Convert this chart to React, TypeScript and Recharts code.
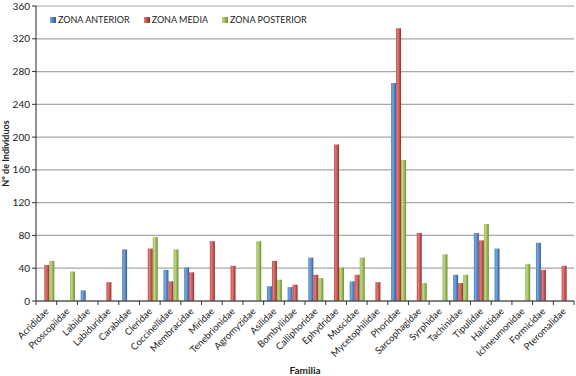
import { Bar, BarChart, CartesianGrid, Label, XAxis, YAxis } from 'recharts';

const families = [
  'Acrididae', 'Proscopiidae', 'Labiidae', 'Labiduridae', 'Carabidae', 'Cleridae',
  'Coccinellidae', 'Membracidae', 'Miridae', 'Tenebrionidae', 'Agromyzidae', 'Asilidae',
  'Bombyliidae', 'Calliphoridae', 'Ephydridae', 'Muscidae', 'Mycetophilidae', 'Phoridae',
  'Sarcophagidae', 'Syrphidae', 'Tachinidae', 'Tipulidae', 'Halictidae', 'Ichneumonidae',
  'Formicidae', 'Pteromalidae',
];

const zonaAnterior = [0, 0, 13, 0, 63, 0, 38, 41, 0, 0, 0, 18, 17, 53, 0, 24, 0, 266, 0, 0, 32, 83, 64, 0, 71, 0];
const zonaMedia = [44, 0, 0, 23, 0, 64, 24, 35, 73, 43, 0, 49, 20, 32, 191, 32, 23, 333, 83, 0, 22, 74, 0, 0, 38, 43];
const zonaPosterior = [49, 36, 0, 0, 0, 78, 63, 0, 0, 0, 73, 26, 0, 28, 41, 53, 0, 172, 22, 57, 32, 94, 0, 45, 0, 0];

const yTicks = [0, 40, 80, 120, 160, 200, 240, 280, 320, 360];

const SERIES = [
  { key: 'anterior', name: 'ZONA ANTERIOR', light: '#7aa6dc', mid: '#4f81bd', dark: '#2f5d95' },
  { key: 'media', name: 'ZONA MEDIA', light: '#e07a77', mid: '#c0504d', dark: '#8f2f2c' },
  { key: 'posterior', name: 'ZONA POSTERIOR', light: '#bcd77f', mid: '#9bbb59', dark: '#6f8c33' },
];

const FONT = 'Lato, "Open Sans", sans-serif';
const WIDTH = 576;
const HEIGHT = 376;
const MARGIN = { top: 6, right: 2, left: 0, bottom: 0 };
const Y_WIDTH = 36;
const X_HEIGHT = 75;
const BAND = (WIDTH - MARGIN.left - MARGIN.right - Y_WIDTH) / families.length;

const data = families.map((name, i) => ({
  name,
  anterior: zonaAnterior[i],
  media: zonaMedia[i],
  posterior: zonaPosterior[i],
}));

function FamilyTick({ x, y, payload, index }: any) {
  const left = x - BAND / 2;
  return (
    <g>
      <line x1={left} y1={y - 8} x2={left} y2={y - 4} stroke="#333" />
      {index === families.length - 1 && (
        <line x1={left + BAND} y1={y - 8} x2={left + BAND} y2={y - 4} stroke="#333" />
      )}
      <text
        x={0}
        y={0}
        transform={`translate(${x + 3},${y + 3}) rotate(-45)`}
        textAnchor="end"
        fontSize={9.5}
        fontFamily={FONT}
        fill="#222"
      >
        {payload.value}
      </text>
    </g>
  );
}

function ZoneLegend() {
  return (
    <div
      style={{
        position: 'absolute',
        left: 50,
        top: 14,
        display: 'flex',
        gap: 14,
        fontFamily: FONT,
        fontSize: 9,
        color: '#222',
      }}
    >
      {SERIES.map((s) => (
        <span key={s.key} style={{ display: 'flex', alignItems: 'center', gap: 2 }}>
          <span
            style={{
              display: 'inline-block',
              width: 6,
              height: 6,
              background: `linear-gradient(to right, ${s.light}, ${s.mid}, ${s.dark})`,
            }}
          />
          {s.name}
        </span>
      ))}
    </div>
  );
}

export default function App() {
  return (
    <div style={{ position: 'absolute', left: 0, top: 0, width: WIDTH, height: HEIGHT, background: '#fff' }}>
      <BarChart
        width={WIDTH}
        height={HEIGHT}
        data={data}
        margin={MARGIN}
        barCategoryGap="16%"
        barGap={0}
      >
        <defs>
          {SERIES.map((s) => (
            <linearGradient key={s.key} id={`grad-${s.key}`} x1="0" y1="0" x2="1" y2="0">
              <stop offset="0%" stopColor={s.mid} />
              <stop offset="35%" stopColor={s.light} />
              <stop offset="100%" stopColor={s.dark} />
            </linearGradient>
          ))}
        </defs>
        <CartesianGrid horizontal vertical={false} stroke="#a6a6a6" strokeWidth={1.2} />
        <XAxis
          dataKey="name"
          interval={0}
          height={X_HEIGHT}
          tick={<FamilyTick />}
          tickLine={false}
          axisLine={{ stroke: '#333' }}
        >
          <Label
            value="Familia"
            position="insideBottom"
            offset={2}
            style={{ fontFamily: FONT, fontSize: 10, fontWeight: 700, fill: '#222' }}
          />
        </XAxis>
        <XAxis xAxisId="top" orientation="top" dataKey="name" height={0} tick={false} tickLine={false} axisLine={{ stroke: '#222' }} />
        <YAxis
          domain={[0, 360]}
          ticks={yTicks}
          width={Y_WIDTH}
          tick={{ fontFamily: FONT, fontSize: 10, fill: '#222' }}
          tickSize={4}
          tickLine={{ stroke: '#333' }}
          axisLine={{ stroke: '#222' }}
        >
          <Label
            value="Nº de Individuos"
            angle={-90}
            position="insideLeft"
            offset={6}
            style={{ textAnchor: 'middle', fontFamily: FONT, fontSize: 9, fontWeight: 700, fill: '#222' }}
          />
        </YAxis>
        <YAxis yAxisId="right" orientation="right" width={0} tick={false} tickLine={false} axisLine={{ stroke: '#222' }} />
        {SERIES.map((s) => (
          <Bar
            key={s.key}
            dataKey={s.key}
            name={s.name}
            fill={`url(#grad-${s.key})`}
            isAnimationActive={false}
          />
        ))}
      </BarChart>
      <ZoneLegend />
    </div>
  );
}
